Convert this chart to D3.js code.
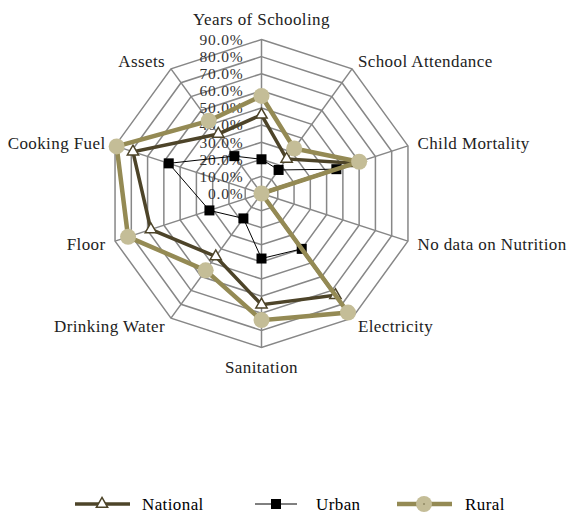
<!DOCTYPE html>
<html>
<head>
<meta charset="utf-8">
<script src="https://cdn.jsdelivr.net/npm/d3@7"></script>
<style>
  body { margin: 0; background: #fff; }
  svg { font-family: 'Liberation Serif', 'DejaVu Serif', serif; letter-spacing: 0.4px; }
</style>
</head>
<body>
<svg width="572" height="513"></svg>
<script>
// radar of deprivation shares (%), clockwise from top
const categories = ['Years of Schooling', 'School Attendance', 'Child Mortality', 'No data on Nutrition',
  'Electricity', 'Sanitation', 'Drinking Water', 'Floor', 'Cooking Fuel', 'Assets'];
const national = [46, 25, 57, 0, 73.5, 65, 45.5, 68, 79, 43];
const urban = [20, 17, 46, 0, 40, 38, 18, 32, 57, 27];
const rural = [57, 32.5, 60, 0, 86, 74, 55.5, 82, 89, 52.5];
const ticks = [0, 10, 20, 30, 40, 50, 60, 70, 80, 90];

const cx = 261.5, cy = 193.5, R = 154;
const svg = d3.select('svg');

const rScale = d3.scaleLinear().domain([0, 90]).range([0, R]);
const aScale = d3.scaleLinear().domain([0, categories.length]).range([0, 2 * Math.PI]);

const pt = (i, v) => {
  const a = aScale(i);
  return [cx + rScale(v) * Math.sin(a), cy - rScale(v) * Math.cos(a)];
};

// grid rings + spokes
const grid = svg.append('g').attr('stroke', '#878787').attr('stroke-width', 1.5).attr('fill', 'none');
ticks.slice(1).forEach((t) => {
  grid.append('path').attr('d', d3.line()(categories.map((c, i) => pt(i, t))) + 'Z');
});
categories.forEach((c, i) => {
  const p = pt(i, 90);
  grid.append('line').attr('x1', cx).attr('y1', cy).attr('x2', p[0]).attr('y2', p[1]);
});

// tick labels (rings are only ~17px apart, so keep these a touch smaller)
svg.append('g').selectAll('text').data(ticks).enter().append('text')
  .attr('x', cx - 18)
  .attr('y', (d) => cy - rScale(d))
  .attr('dy', '0.35em')
  .attr('text-anchor', 'end')
  .style('font-size', '15.5px')
  .style('letter-spacing', '0.8px')
  .style('fill', '#333')
  .text((d) => d.toFixed(1) + '%');

// category labels
svg.append('g').selectAll('text').data(categories).enter().append('text')
  .attr('x', (d, i) => {
    const s = Math.sin(aScale(i));
    return cx + (R + (Math.abs(s) < 0.1 ? 20 : 10)) * s;
  })
  .attr('y', (d, i) => {
    const s = Math.sin(aScale(i));
    return cy - (R + (Math.abs(s) < 0.1 ? 20 : 10)) * Math.cos(aScale(i));
  })
  .attr('dy', '0.35em')
  .attr('text-anchor', (d, i) => {
    const s = Math.sin(aScale(i));
    return s > 0.1 ? 'start' : s < -0.1 ? 'end' : 'middle';
  })
  .style('font-size', '17px')
  .style('fill', '#222')
  .text((d) => d);

const lineGen = d3.line();
const triangle = d3.symbol().type(d3.symbolTriangle).size(55);

// National
svg.append('path')
  .attr('d', lineGen(national.map((v, i) => pt(i, v))) + 'Z')
  .attr('fill', 'none').attr('stroke', '#4d4429').attr('stroke-width', 3.5);
svg.append('g').selectAll('path').data(national).enter().append('path')
  .attr('d', triangle)
  .attr('transform', (d, i) => 'translate(' + pt(i, d) + ')')
  .attr('fill', '#fff').attr('stroke', '#4d4429').attr('stroke-width', 1.5);

// Urban
svg.append('path')
  .attr('d', lineGen(urban.map((v, i) => pt(i, v))) + 'Z')
  .attr('fill', 'none').attr('stroke', '#000').attr('stroke-width', 1);
svg.append('g').selectAll('rect').data(urban).enter().append('rect')
  .attr('x', (d, i) => pt(i, d)[0] - 5)
  .attr('y', (d, i) => pt(i, d)[1] - 5)
  .attr('width', 10).attr('height', 10)
  .attr('fill', '#000');

// Rural
svg.append('path')
  .attr('d', lineGen(rural.map((v, i) => pt(i, v))) + 'Z')
  .attr('fill', 'none').attr('stroke', '#948a54').attr('stroke-width', 4.5);
svg.append('g').selectAll('circle').data(rural).enter().append('circle')
  .attr('cx', (d, i) => pt(i, d)[0])
  .attr('cy', (d, i) => pt(i, d)[1])
  .attr('r', 8)
  .attr('fill', '#c4bd97');

// legend
const ly = 504;
const leg = svg.append('g');
leg.append('line').attr('x1', 75).attr('x2', 130).attr('y1', ly).attr('y2', ly)
  .attr('stroke', '#4d4429').attr('stroke-width', 3.5);
leg.append('path').attr('d', triangle).attr('transform', 'translate(102,' + ly + ')')
  .attr('fill', '#fff').attr('stroke', '#4d4429').attr('stroke-width', 1.5);
leg.append('text').attr('x', 142).attr('y', ly).attr('dy', '0.35em').style('font-size', '17px').text('National');

leg.append('line').attr('x1', 255).attr('x2', 297).attr('y1', ly).attr('y2', ly)
  .attr('stroke', '#000').attr('stroke-width', 1);
leg.append('rect').attr('x', 271).attr('y', ly - 5).attr('width', 10).attr('height', 10).attr('fill', '#000');
leg.append('text').attr('x', 316).attr('y', ly).attr('dy', '0.35em').style('font-size', '17px').text('Urban');

leg.append('line').attr('x1', 397).attr('x2', 452).attr('y1', ly).attr('y2', ly)
  .attr('stroke', '#948a54').attr('stroke-width', 4.5);
leg.append('circle').attr('cx', 424).attr('cy', ly).attr('r', 8).attr('fill', '#c4bd97');
leg.append('circle').attr('cx', 424).attr('cy', ly).attr('r', 0.8).attr('fill', '#6b6440');
leg.append('text').attr('x', 465).attr('y', ly).attr('dy', '0.35em').style('font-size', '17px').text('Rural');
</script>
</body>
</html>
